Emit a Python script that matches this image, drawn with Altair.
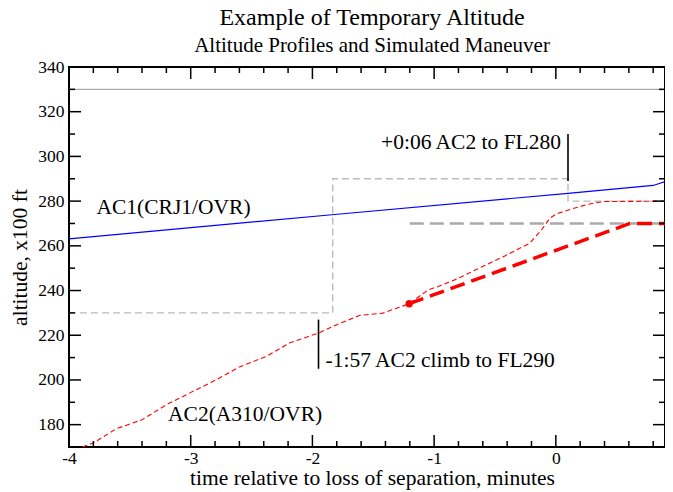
import altair as alt
import pandas as pd

FONT = "Liberation Serif"

# ---------------- data ----------------
# AC1 (CRJ1/OVR) altitude profile
ac1_t = [-4.0, -1.84, 0.10, 0.80, 0.955]
ac1_alt = [263.1, 273.9, 283.5, 287.0, 289.8]

# AC2 (A310/OVR) actual altitude profile (thin red dashed)
ac2_t = [-3.89, -3.80, -3.61, -3.40, -3.20, -3.01, -2.79, -2.60, -2.38, -2.19,
         -1.95, -1.77, -1.61, -1.42, -1.323, -1.205, -1.049, -0.967, -0.816,
         -0.611, -0.419, -0.214, -0.118, -0.049, 0.005, 0.129, 0.266, 0.389, 0.955]
ac2_alt = [170.0, 171.8, 178.2, 182.2, 188.9, 194.1, 200.1, 205.8, 210.5, 216.5,
           221.0, 225.4, 228.9, 229.9, 231.8, 234.1, 240.3, 241.8, 245.1,
           250.5, 255.5, 261.2, 267.1, 272.4, 274.3, 276.5, 278.6, 279.8, 280.0]

# simulated maneuver (thick red dashed)
man_t = [-1.205, 0.608, 0.955]
man_alt = [234.1, 270.0, 270.0]

# maneuver start point
dot_t = [-1.205]
dot_alt = [234.1]

# AC2 cleared altitude (thin grey dashed, stepped)
clr_t = [-4.0, -1.833, -1.833, 0.10, 0.10, 0.955]
clr_alt = [230, 230, 290, 290, 280, 280]

# temporary altitude (thick grey dashed)
tmp_t = [-1.2, 0.955]
tmp_alt = [270, 270]

# AC1 level (thin grey solid)
ceil_t = [-4.0, 0.955]
ceil_alt = [330, 330]

# event markers
ev_t = [-1.95, 0.10]
ev_lo = [205.0, 289.0]
ev_hi = [227.0, 310.0]

# text annotations
note_text = ["AC1(CRJ1/OVR)", "AC2(A310/OVR)", "-1:57 AC2 climb to FL290", "+0:06 AC2 to FL280"]
note_t = [-3.774, -3.186, -1.95, 0.10]
note_alt = [274.3, 181.5, 205.8, 303.2]

# axis ticks
x_major = [-4, -3, -2, -1, 0]
x_minor = [-3.8, -3.6, -3.4, -3.2, -2.8, -2.6, -2.4, -2.2, -1.8, -1.6, -1.4, -1.2,
           -0.8, -0.6, -0.4, -0.2, 0.2, 0.4, 0.6, 0.8]
y_major = [180, 200, 220, 240, 260, 280, 300, 320, 340]
y_minor = [190, 210, 230, 250, 270, 290, 310, 330]

X_DOMAIN = [-4.0, 0.897]
Y_DOMAIN = [170, 340]
W, H = 596, 380

# ---------------- chart ----------------
xs = alt.Scale(domain=X_DOMAIN, nice=False, zero=False)
ys = alt.Scale(domain=Y_DOMAIN, nice=False, zero=False)

x_axis = alt.Axis(values=x_major, labelExpr="toString(datum.value)", ticks=False, domain=False,
                  grid=False, labelFont=FONT, labelFontSize=17.5, labelColor="black",
                  labelPadding=2, labelFlush=False,
                  title="time relative to loss of separation, minutes",
                  titleFont=FONT, titleFontSize=21.5, titleFontWeight="normal",
                  titleColor="black", titlePadding=1, titleX=W / 2 + 5)
y_axis = alt.Axis(values=y_major, format="d", ticks=False, domain=False, grid=False,
                  labelFont=FONT, labelFontSize=17.5, labelColor="black", labelPadding=5,
                  labelFlush=False,
                  title="altitude, x100 ft", titleFont=FONT, titleFontSize=21.5,
                  titleFontWeight="normal", titleColor="black", titlePadding=6)


def line_df(t, a):
    return pd.DataFrame({"t": t, "alt": a, "i": list(range(len(t)))})


def xenc():
    return alt.X("t:Q", scale=xs, axis=x_axis)


def yenc(field="alt:Q"):
    return alt.Y(field, scale=ys, axis=y_axis)


ceil = alt.Chart(line_df(ceil_t, ceil_alt)).mark_line(
    color="#aaaaaa", strokeWidth=1.2, clip=True).encode(x=xenc(), y=yenc(), order="i:Q")

clr = alt.Chart(line_df(clr_t, clr_alt)).mark_line(
    color="#bbbbbb", strokeWidth=1.4, strokeDash=[7, 4], clip=True).encode(
    x=xenc(), y=yenc(), order="i:Q")

tmp = alt.Chart(line_df(tmp_t, tmp_alt)).mark_line(
    color="#aaaaaa", strokeWidth=2.5, strokeDash=[14, 6], clip=True).encode(
    x=xenc(), y=yenc(), order="i:Q")

ac1 = alt.Chart(line_df(ac1_t, ac1_alt)).mark_line(
    color="#0000ff", strokeWidth=1.2, clip=True).encode(x=xenc(), y=yenc(), order="i:Q")

ac2 = alt.Chart(line_df(ac2_t, ac2_alt)).mark_line(
    color="#ff0000", strokeWidth=1.1, strokeDash=[5, 3], clip=True).encode(
    x=xenc(), y=yenc(), order="i:Q")

man = alt.Chart(line_df(man_t, man_alt)).mark_line(
    color="#ff0000", strokeWidth=3.5, strokeDash=[15, 7], clip=True).encode(
    x=xenc(), y=yenc(), order="i:Q")

dot = alt.Chart(pd.DataFrame({"t": dot_t, "alt": dot_alt})).mark_circle(
    color="#ff0000", size=55, opacity=1).encode(x=xenc(), y=yenc())

ev = alt.Chart(pd.DataFrame({"t": ev_t, "lo": ev_lo, "hi": ev_hi})).mark_rule(
    color="black", strokeWidth=1.6).encode(x=xenc(), y=yenc("lo:Q"), y2="hi:Q")

notes_df = pd.DataFrame({"txt": note_text, "t": note_t, "alt": note_alt})
common_text = dict(font=FONT, fontSize=21.5, color="black", baseline="alphabetic")
notes_left = alt.Chart(notes_df.iloc[:2]).mark_text(align="left", **common_text).encode(
    x=xenc(), y=yenc(), text="txt:N")
notes_ev1 = alt.Chart(notes_df.iloc[2:3]).mark_text(align="left", dx=7, **common_text).encode(
    x=xenc(), y=yenc(), text="txt:N")
notes_ev2 = alt.Chart(notes_df.iloc[3:4]).mark_text(align="right", dx=-7, **common_text).encode(
    x=xenc(), y=yenc(), text="txt:N")

# inward axis ticks on all four sides
xmaj = pd.DataFrame({"t": x_major})
xmin = pd.DataFrame({"t": x_minor})
ymaj = pd.DataFrame({"alt": y_major})
ymin = pd.DataFrame({"alt": y_minor})
tick_style = dict(color="black", strokeWidth=1.5)
MAJ, MIN = 12, 6
ticks = [
    alt.Chart(xmaj).mark_rule(**tick_style).encode(x=xenc(), y=alt.value(H), y2=alt.value(H - MAJ)),
    alt.Chart(xmin).mark_rule(**tick_style).encode(x=xenc(), y=alt.value(H), y2=alt.value(H - MIN)),
    alt.Chart(xmaj).mark_rule(**tick_style).encode(x=xenc(), y=alt.value(0), y2=alt.value(MAJ)),
    alt.Chart(xmin).mark_rule(**tick_style).encode(x=xenc(), y=alt.value(0), y2=alt.value(MIN)),
    alt.Chart(ymaj).mark_rule(**tick_style).encode(y=yenc(), x=alt.value(0), x2=alt.value(MAJ)),
    alt.Chart(ymin).mark_rule(**tick_style).encode(y=yenc(), x=alt.value(0), x2=alt.value(MIN)),
    alt.Chart(ymaj).mark_rule(**tick_style).encode(y=yenc(), x=alt.value(W), x2=alt.value(W - MAJ)),
    alt.Chart(ymin).mark_rule(**tick_style).encode(y=yenc(), x=alt.value(W), x2=alt.value(W - MIN)),
]

chart = alt.layer(
    ceil, clr, tmp, ac1, ac2, man, dot, ev, notes_left, notes_ev1, notes_ev2, *ticks
).properties(
    width=W, height=H,
    background="white",
    title=alt.TitleParams(
        text="Example of Temporary Altitude",
        subtitle="Altitude Profiles and Simulated Maneuver",
        font=FONT, fontSize=24, fontWeight="normal", color="black",
        subtitleFont=FONT, subtitleFontSize=21, subtitleColor="black",
        anchor="middle", offset=2, subtitlePadding=5, dx=5,
    ),
    autosize=alt.AutoSizeParams(type="none"),
    padding={"left": 61, "top": 59, "right": 0, "bottom": 45},
).configure_view(
    stroke="black", strokeWidth=2
)

chart.save("out.html", embed_options={"renderer": "svg", "actions": False})
